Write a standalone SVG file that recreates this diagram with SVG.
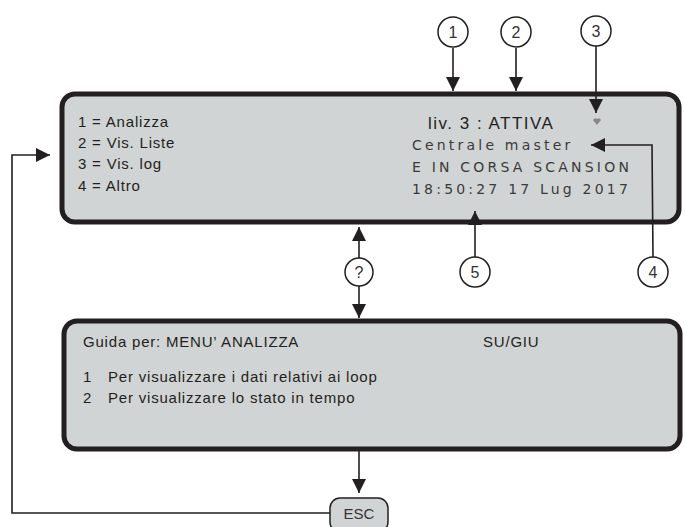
<svg xmlns="http://www.w3.org/2000/svg" width="685" height="527" viewBox="0 0 685 527">
<defs>
<marker id="ahb" viewBox="0 0 10 10" refX="10" refY="5" markerWidth="14" markerHeight="14" markerUnits="userSpaceOnUse" orient="auto">
<path d="M0,0 L10,5 L0,10 z" fill="#231f20"/>
</marker>
</defs>
<style>
.panel{fill:#d1d4d4;stroke:#231f20;stroke-width:5}
.circ{fill:#ffffff;stroke:#231f20;stroke-width:1.5}
.num{font-family:"Liberation Sans",Arial,sans-serif;font-size:16px;fill:#333;text-anchor:middle}
.t{font-family:"Liberation Sans",Arial,sans-serif;font-size:15px;fill:#231f20;letter-spacing:0.8px}
.m{font-family:"DejaVu Sans",sans-serif;font-size:14px;fill:#3a3a3a;letter-spacing:3.2px}
.ln{fill:none;stroke:#231f20;stroke-width:1.6}
</style>
<g id="top-panel">
<rect class="panel" x="62" y="94" width="617" height="128" rx="13"/>
<text class="t" x="78" y="127">1 = Analizza</text>
<text class="t" x="78" y="148">2 = Vis. Liste</text>
<text class="t" x="78" y="169">3 = Vis. log</text>
<text class="t" x="78" y="191">4 = Altro</text>
<text class="t" x="428" y="129" style="font-size:17px;letter-spacing:1.5px">liv. 3 : ATTIVA</text>
<text class="m" x="412" y="150">Centrale master</text>
<text class="m" x="412" y="172">E IN CORSA SCANSION</text>
<text class="m" x="412" y="194">18:50:27 17 Lug 2017</text>
<path d="M593,120 q2,-3 4,-1 q2,-2 4,1 l-4,5 z" fill="#888"/>
</g>
<g id="bottom-panel">
<rect class="panel" x="64" y="321" width="616" height="128" rx="13"/>
<text class="t" x="83" y="347">Guida per: MENU’ ANALIZZA</text>
<text class="t" x="483" y="347">SU/GIU</text>
<text class="t" x="83" y="382">1</text>
<text class="t" x="108" y="382">Per visualizzare i dati relativi ai loop</text>
<text class="t" x="83" y="403">2</text>
<text class="t" x="108" y="403">Per visualizzare lo stato in tempo</text>
</g>
<g id="connectors">
<line class="ln" x1="453" y1="48" x2="453" y2="91" marker-end="url(#ahb)"/>
<line class="ln" x1="516" y1="48" x2="516" y2="91" marker-end="url(#ahb)"/>
<line class="ln" x1="596" y1="46" x2="596" y2="113" marker-end="url(#ahb)"/>
<polyline class="ln" points="653,257 652,145 591,145" marker-end="url(#ahb)"/>
<line class="ln" x1="475" y1="257" x2="475" y2="211" marker-end="url(#ahb)"/>
<line class="ln" x1="359" y1="258" x2="359" y2="227" marker-end="url(#ahb)"/>
<line class="ln" x1="359" y1="286" x2="359" y2="318" marker-end="url(#ahb)"/>
<line class="ln" x1="359" y1="451" x2="359" y2="493" marker-end="url(#ahb)"/>
<polyline class="ln" points="330,513 12,513 12,155 50,155" marker-end="url(#ahb)"/>
</g>
<g id="c1"><circle class="circ" cx="453" cy="32" r="15"/><text class="num" x="453" y="38">1</text></g>
<g id="c2"><circle class="circ" cx="516" cy="32" r="15"/><text class="num" x="516" y="38">2</text></g>
<g id="c3"><circle class="circ" cx="596" cy="31" r="15"/><text class="num" x="596" y="37">3</text></g>
<g id="c4"><circle class="circ" cx="653" cy="272" r="15"/><text class="num" x="653" y="278">4</text></g>
<g id="c5"><circle class="circ" cx="475" cy="272" r="15"/><text class="num" x="475" y="278">5</text></g>
<g id="q"><circle class="circ" cx="359" cy="272" r="14"/><text class="num" x="359" y="278">?</text></g>
<g id="esc">
<rect x="330" y="498" width="58" height="34" rx="10" fill="#d1d4d4" stroke="#231f20" stroke-width="1.5"/>
<text class="num" x="359" y="519" style="font-size:15px">ESC</text>
</g>
</svg>
